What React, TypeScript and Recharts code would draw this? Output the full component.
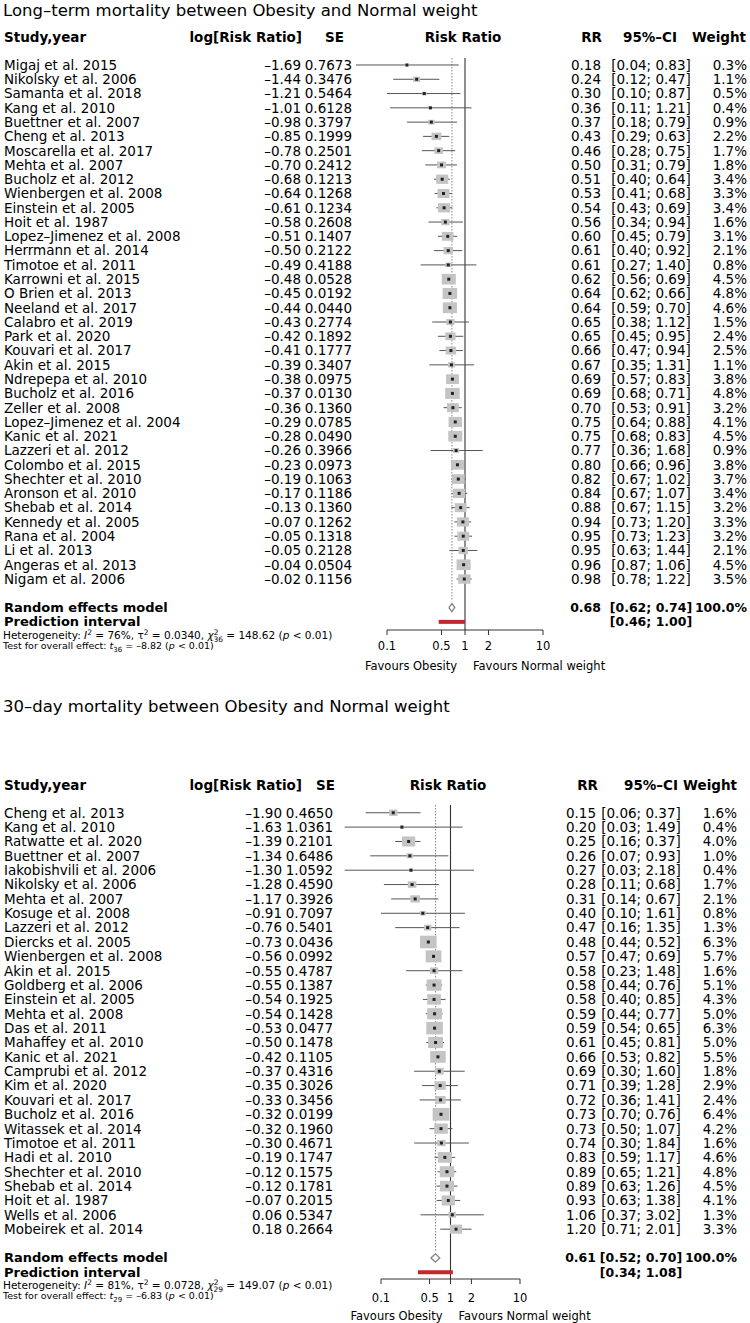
import React from 'react'
import { ScatterChart, Scatter, XAxis, YAxis, ErrorBar, ReferenceLine } from 'recharts'

const FONT = "'DejaVu Sans', sans-serif"

// Long-term mortality
const ltStudy = [
  'Migaj et al. 2015', 'Nikolsky et al. 2006', 'Samanta et al. 2018', 'Kang et al. 2010',
  'Buettner et al. 2007', 'Cheng et al. 2013', 'Moscarella et al. 2017', 'Mehta et al. 2007',
  'Bucholz et al. 2012', 'Wienbergen et al. 2008', 'Einstein et al. 2005', 'Hoit et al. 1987',
  'Lopez–Jimenez et al. 2008', 'Herrmann et al. 2014', 'Timotoe et al. 2011', 'Karrowni et al. 2015',
  'O Brien et al. 2013', 'Neeland et al. 2017', 'Calabro et al. 2019', 'Park et al. 2020',
  'Kouvari et al. 2017', 'Akin et al. 2015', 'Ndrepepa et al. 2010', 'Bucholz et al. 2016',
  'Zeller et al. 2008', 'Lopez–Jimenez et al. 2004', 'Kanic et al. 2021', 'Lazzeri et al. 2012',
  'Colombo et al. 2015', 'Shechter et al. 2010', 'Aronson et al. 2010', 'Shebab et al. 2014',
  'Kennedy et al. 2005', 'Rana et al. 2004', 'Li et al. 2013', 'Angeras et al. 2013', 'Nigam et al. 2006',
]
const ltLogRR = [
  -1.69, -1.44, -1.21, -1.01, -0.98, -0.85, -0.78, -0.70, -0.68, -0.64, -0.61, -0.58, -0.51, -0.50,
  -0.49, -0.48, -0.45, -0.44, -0.43, -0.42, -0.41, -0.39, -0.38, -0.37, -0.36, -0.29, -0.28, -0.26,
  -0.23, -0.19, -0.17, -0.13, -0.07, -0.05, -0.05, -0.04, -0.02,
]
const ltSE = [
  0.7673, 0.3476, 0.5464, 0.6128, 0.3797, 0.1999, 0.2501, 0.2412, 0.1213, 0.1268, 0.1234, 0.2608,
  0.1407, 0.2122, 0.4188, 0.0528, 0.0192, 0.0440, 0.2774, 0.1892, 0.1777, 0.3407, 0.0975, 0.0130,
  0.1360, 0.0785, 0.0490, 0.3966, 0.0973, 0.1063, 0.1186, 0.1360, 0.1262, 0.1318, 0.2128, 0.0504, 0.1156,
]
const ltRR = [
  0.18, 0.24, 0.30, 0.36, 0.37, 0.43, 0.46, 0.50, 0.51, 0.53, 0.54, 0.56, 0.60, 0.61, 0.61, 0.62,
  0.64, 0.64, 0.65, 0.65, 0.66, 0.67, 0.69, 0.69, 0.70, 0.75, 0.75, 0.77, 0.80, 0.82, 0.84, 0.88,
  0.94, 0.95, 0.95, 0.96, 0.98,
]
const ltLower = [
  0.04, 0.12, 0.10, 0.11, 0.18, 0.29, 0.28, 0.31, 0.40, 0.41, 0.43, 0.34, 0.45, 0.40, 0.27, 0.56,
  0.62, 0.59, 0.38, 0.45, 0.47, 0.35, 0.57, 0.68, 0.53, 0.64, 0.68, 0.36, 0.66, 0.67, 0.67, 0.67,
  0.73, 0.73, 0.63, 0.87, 0.78,
]
const ltUpper = [
  0.83, 0.47, 0.87, 1.21, 0.79, 0.63, 0.75, 0.79, 0.64, 0.68, 0.69, 0.94, 0.79, 0.92, 1.40, 0.69,
  0.66, 0.70, 1.12, 0.95, 0.94, 1.31, 0.83, 0.71, 0.91, 0.88, 0.83, 1.68, 0.96, 1.02, 1.07, 1.15,
  1.20, 1.23, 1.44, 1.06, 1.22,
]
const ltWeight = [
  0.3, 1.1, 0.5, 0.4, 0.9, 2.2, 1.7, 1.8, 3.4, 3.3, 3.4, 1.6, 3.1, 2.1, 0.8, 4.5, 4.8, 4.6, 1.5,
  2.4, 2.5, 1.1, 3.8, 4.8, 3.2, 4.1, 4.5, 0.9, 3.8, 3.7, 3.4, 3.2, 3.3, 3.2, 2.1, 4.5, 3.5,
]
const ltSummary = [0.68, 0.62, 0.74]
const ltPredInt = [0.46, 1.0]
const ltHet = ['76%', '0.0340', '36', '148.62', '–8.82']

// 30-day mortality
const tdStudy = [
  'Cheng et al. 2013', 'Kang et al. 2010', 'Ratwatte et al. 2020', 'Buettner et al. 2007',
  'Iakobishvili et al. 2006', 'Nikolsky et al. 2006', 'Mehta et al. 2007', 'Kosuge et al. 2008',
  'Lazzeri et al. 2012', 'Diercks et al. 2005', 'Wienbergen et al. 2008', 'Akin et al. 2015',
  'Goldberg et al. 2006', 'Einstein et al. 2005', 'Mehta et al. 2008', 'Das et al. 2011',
  'Mahaffey et al. 2010', 'Kanic et al. 2021', 'Camprubi et al. 2012', 'Kim et al. 2020',
  'Kouvari et al. 2017', 'Bucholz et al. 2016', 'Witassek et al. 2014', 'Timotoe et al. 2011',
  'Hadi et al. 2010', 'Shechter et al. 2010', 'Shebab et al. 2014', 'Hoit et al. 1987',
  'Wells et al. 2006', 'Mobeirek et al. 2014',
]
const tdLogRR = [
  -1.90, -1.63, -1.39, -1.34, -1.30, -1.28, -1.17, -0.91, -0.76, -0.73, -0.56, -0.55, -0.55, -0.54,
  -0.54, -0.53, -0.50, -0.42, -0.37, -0.35, -0.33, -0.32, -0.32, -0.30, -0.19, -0.12, -0.12, -0.07,
  0.06, 0.18,
]
const tdSE = [
  0.4650, 1.0361, 0.2101, 0.6486, 1.0592, 0.4590, 0.3926, 0.7097, 0.5401, 0.0436, 0.0992, 0.4787,
  0.1387, 0.1925, 0.1428, 0.0477, 0.1478, 0.1105, 0.4316, 0.3026, 0.3456, 0.0199, 0.1960, 0.4671,
  0.1747, 0.1575, 0.1781, 0.2015, 0.5347, 0.2664,
]
const tdRR = [
  0.15, 0.20, 0.25, 0.26, 0.27, 0.28, 0.31, 0.40, 0.47, 0.48, 0.57, 0.58, 0.58, 0.58, 0.59, 0.59,
  0.61, 0.66, 0.69, 0.71, 0.72, 0.73, 0.73, 0.74, 0.83, 0.89, 0.89, 0.93, 1.06, 1.20,
]
const tdLower = [
  0.06, 0.03, 0.16, 0.07, 0.03, 0.11, 0.14, 0.10, 0.16, 0.44, 0.47, 0.23, 0.44, 0.40, 0.44, 0.54,
  0.45, 0.53, 0.30, 0.39, 0.36, 0.70, 0.50, 0.30, 0.59, 0.65, 0.63, 0.63, 0.37, 0.71,
]
const tdUpper = [
  0.37, 1.49, 0.37, 0.93, 2.18, 0.68, 0.67, 1.61, 1.35, 0.52, 0.69, 1.48, 0.76, 0.85, 0.77, 0.65,
  0.81, 0.82, 1.60, 1.28, 1.41, 0.76, 1.07, 1.84, 1.17, 1.21, 1.26, 1.38, 3.02, 2.01,
]
const tdWeight = [
  1.6, 0.4, 4.0, 1.0, 0.4, 1.7, 2.1, 0.8, 1.3, 6.3, 5.7, 1.6, 5.1, 4.3, 5.0, 6.3, 5.0, 5.5, 1.8,
  2.9, 2.4, 6.4, 4.2, 1.6, 4.6, 4.8, 4.5, 4.1, 1.3, 3.3,
]
const tdSummary = [0.61, 0.52, 0.70]
const tdPredInt = [0.34, 1.08]
const tdHet = ['81%', '0.0728', '29', '149.07', '–6.83']

const axisTicks = [0.1, 0.5, 1, 2, 10]

type Cfg = {
  height: number
  plotTop: number
  plotBottom: number
  yDomain: [number, number]
  leftW: number
  rightW: number
  lrX: number
  seX: number
  rrX: number
  ciX: number
  wX: number
  hSE: number
  hRR: number
  hCI: number
  hW: number
  hRisk: number
  tickMargin: number
  titleY: number
  headY: number
  hetY: number
  testY: number
  favY: number
}

const ltCfg: Cfg = {
  height: 690, plotTop: 58, plotBottom: 630, yDomain: [0.51, 40.57], leftW: 309, rightW: 129,
  lrX: 301, seX: 352, rrX: 601, ciX: 651, wX: 747,
  hSE: 344, hRR: 602, hCI: 650, hW: 746, hRisk: 463, tickMargin: 7,
  titleY: 16, headY: 42, hetY: 639, testY: 649, favY: 670,
}

const tdCfg: Cfg = {
  height: 633, plotTop: 115, plotBottom: 589, yDomain: [0.46, 33.47], leftW: 311.5, rightW: 160.5,
  lrX: 282, seX: 333, rrX: 596, ciX: 641, wX: 737,
  hSE: 335, hRR: 598, hCI: 651, hW: 737, hRisk: 448, tickMargin: 10,
  titleY: 22, headY: 100, hetY: 599, testY: 609, favY: 630,
}

const num = (v: number, d: number) => v.toFixed(d).replace('-', '–')
const base = { fontFamily: FONT, fontSize: 13.5, fill: '#000' }
const bold = { ...base, fontWeight: 'bold' as const }
const boldLabel = { ...bold, fontSize: 13 }
const boldNum = { ...bold, fontSize: 12.5 }

function Forest(props: {
  title: string
  study: string[]
  logrr: number[]
  se: number[]
  rr: number[]
  lo: number[]
  hi: number[]
  wt: number[]
  summary: number[]
  pred: number[]
  het: string[]
  cfg: Cfg
}) {
  const { title, study, logrr, se, rr, lo, hi, wt, summary, pred, het, cfg } = props
  const n = study.length
  const reRow = n + 2
  const piRow = n + 3
  const rows = study.map((_, i) => ({ x: rr[i], y: i + 1, err: [rr[i] - lo[i], hi[i] - rr[i]], w: wt[i] }))
  const diamond = [
    { x: summary[1], y: reRow },
    { x: summary[0], y: reRow - 0.28 },
    { x: summary[2], y: reRow },
    { x: summary[0], y: reRow + 0.28 },
    { x: summary[1], y: reRow },
  ]
  const tickRows = [...rows.map(r => r.y), reRow, piRow]
  const oneX = cfg.leftW + (750 - cfg.leftW - cfg.rightW) / 2

  const leftTick = (p: any) => {
    const r = p.payload.value
    const y = p.y
    if (r === reRow || r === piRow) {
      return (
        <text x={4} y={y} dy="0.34em" {...boldLabel}>
          {r === reRow ? 'Random effects model' : 'Prediction interval'}
        </text>
      )
    }
    const i = r - 1
    return (
      <g>
        <text x={4} y={y} dy="0.36em" {...base}>{study[i]}</text>
        <text x={cfg.lrX} y={y} dy="0.36em" textAnchor="end" {...base}>{num(logrr[i], 2)}</text>
        <text x={cfg.seX} y={y} dy="0.36em" textAnchor="end" {...base}>{se[i].toFixed(4)}</text>
      </g>
    )
  }

  const rightTick = (p: any) => {
    const r = p.payload.value
    const y = p.y
    if (r === reRow) {
      return (
        <g>
          <text x={cfg.rrX} y={y} dy="0.36em" textAnchor="end" {...boldNum}>{num(summary[0], 2)}</text>
          <text x={cfg.ciX} y={y} dy="0.36em" textAnchor="middle" {...boldNum}>
            {`[${num(summary[1], 2)}; ${num(summary[2], 2)}]`}
          </text>
          <text x={cfg.wX} y={y} dy="0.36em" textAnchor="end" {...boldNum}>100.0%</text>
        </g>
      )
    }
    if (r === piRow) {
      return (
        <text x={cfg.ciX} y={y} dy="0.36em" textAnchor="middle" {...boldNum}>
          {`[${num(pred[0], 2)}; ${num(pred[1], 2)}]`}
        </text>
      )
    }
    const i = r - 1
    return (
      <g>
        <text x={cfg.rrX} y={y} dy="0.36em" textAnchor="end" {...base}>{num(rr[i], 2)}</text>
        <text x={cfg.ciX} y={y} dy="0.36em" textAnchor="middle" {...base}>
          {`[${num(lo[i], 2)}; ${num(hi[i], 2)}]`}
        </text>
        <text x={cfg.wX} y={y} dy="0.36em" textAnchor="end" {...base}>{`${wt[i].toFixed(1)}%`}</text>
      </g>
    )
  }

  const box = (p: any) => {
    const s = 6.6 * Math.sqrt(p.payload.w)
    return <rect x={p.cx - s / 2} y={p.cy - s * 0.38} width={s} height={s * 0.76} fill="#c4c4c4" />
  }
  const dot = (p: any) => <rect x={p.cx - 1.5} y={p.cy - 1.5} width={3} height={3} fill="#222" />
  const none = () => <g />

  const small = { fontFamily: FONT, fill: '#000' }

  return (
    <div style={{ position: 'relative', width: 750, height: cfg.height }}>
      <ScatterChart
        width={750}
        height={cfg.height}
        margin={{ top: cfg.plotTop, right: 0, bottom: cfg.height - cfg.plotBottom - 30, left: 0 }}
      >
        <XAxis
          type="number"
          dataKey="x"
          scale="log"
          domain={[0.01, 100]}
          allowDataOverflow
          ticks={axisTicks}
          interval={0}
          axisLine={false}
          tickLine={{ stroke: '#333' }}
          tickSize={5}
          tickMargin={cfg.tickMargin}
          height={30}
          tick={{ fontSize: 11.5, fill: '#000', fontFamily: FONT }}
          tickFormatter={(v: number) => String(v)}
        />
        <YAxis
          yAxisId="L"
          type="number"
          dataKey="y"
          domain={cfg.yDomain}
          reversed
          allowDataOverflow
          ticks={tickRows}
          interval={0}
          width={cfg.leftW}
          axisLine={false}
          tickLine={false}
          tick={leftTick}
        />
        <YAxis
          yAxisId="R"
          orientation="right"
          type="number"
          dataKey="y"
          domain={cfg.yDomain}
          reversed
          allowDataOverflow
          ticks={tickRows}
          interval={0}
          width={cfg.rightW}
          axisLine={false}
          tickLine={false}
          tick={rightTick}
        />
        <ReferenceLine yAxisId="L" x={1} stroke="#333" strokeWidth={1.1} ifOverflow="visible" />
        <ReferenceLine
          yAxisId="L"
          segment={[{ x: summary[0], y: cfg.yDomain[0] }, { x: summary[0], y: reRow - 0.45 }]}
          stroke="#888"
          strokeDasharray="1.5 1.5"
          ifOverflow="visible"
        />
        <ReferenceLine
          yAxisId="L"
          segment={[{ x: 0.1, y: cfg.yDomain[1] }, { x: 10, y: cfg.yDomain[1] }]}
          stroke="#333"
          ifOverflow="visible"
        />
        <Scatter yAxisId="L" data={rows} shape={box} isAnimationActive={false} />
        <Scatter yAxisId="L" data={rows} shape={dot} isAnimationActive={false}>
          <ErrorBar dataKey="err" direction="x" width={0} stroke="#555" strokeWidth={1} />
        </Scatter>
        <Scatter
          yAxisId="R"
          data={diamond}
          fill="#808080"
          line={{ stroke: '#808080', strokeWidth: 1.3, fill: 'none' }}
          shape={none}
          isAnimationActive={false}
        />
        <ReferenceLine
          yAxisId="L"
          segment={[{ x: pred[0], y: piRow }, { x: pred[1], y: piRow }]}
          stroke="#c0282d"
          strokeWidth={4}
          ifOverflow="visible"
        />
      </ScatterChart>
      <svg
        width={750}
        height={cfg.height}
        style={{ position: 'absolute', left: 0, top: 0, pointerEvents: 'none' }}
      >
        <text x={3} y={cfg.titleY} fontFamily={FONT} fontSize={16.5} fill="#000">{title}</text>
        <text x={4} y={cfg.headY} {...bold}>Study,year</text>
        <text x={302} y={cfg.headY} textAnchor="end" {...bold}>log[Risk Ratio]</text>
        <text x={cfg.hSE} y={cfg.headY} textAnchor="end" {...bold}>SE</text>
        <text x={cfg.hRisk} y={cfg.headY} textAnchor="middle" {...bold}>Risk Ratio</text>
        <text x={cfg.hRR} y={cfg.headY} textAnchor="end" {...bold}>RR</text>
        <text x={cfg.hCI} y={cfg.headY} textAnchor="middle" {...bold}>95%–CI</text>
        <text x={cfg.hW} y={cfg.headY} textAnchor="end" {...bold}>Weight</text>
        <text x={3} y={cfg.hetY} fontSize={10.5} {...small}>
          {'Heterogeneity: '}
          <tspan fontStyle="italic">I</tspan>
          <tspan dy={-4} fontSize={7.5}>2</tspan>
          <tspan dy={4}>{` = ${het[0]}, τ`}</tspan>
          <tspan dy={-4} fontSize={7.5}>2</tspan>
          <tspan dy={4}>{` = ${het[1]}, `}</tspan>
          <tspan fontStyle="italic">χ</tspan>
          <tspan dy={-4} fontSize={7.5}>2</tspan>
          <tspan dx={-5} dy={6.5} fontSize={7.5}>{het[2]}</tspan>
          <tspan dy={-2.5}>{` = ${het[3]} (`}</tspan>
          <tspan fontStyle="italic">p</tspan>
          <tspan>{' < 0.01)'}</tspan>
        </text>
        <text x={3} y={cfg.testY} fontSize={9.5} {...small}>
          {'Test for overall effect: '}
          <tspan fontStyle="italic">t</tspan>
          <tspan dy={2.5} fontSize={7}>{het[2]}</tspan>
          <tspan dy={-2.5}>{` = ${het[4]} (`}</tspan>
          <tspan fontStyle="italic">p</tspan>
          <tspan>{' < 0.01)'}</tspan>
        </text>
        <text x={oneX - 8} y={cfg.favY} textAnchor="end" fontSize={11.5} {...small}>Favours Obesity</text>
        <text x={oneX + 8} y={cfg.favY} fontSize={11.5} {...small}>Favours Normal weight</text>
      </svg>
    </div>
  )
}

export default function App() {
  return (
    <div style={{ width: 750, height: 1323, background: '#fff' }}>
      <style>{'body{margin:0}'}</style>
      <Forest
        title="Long–term mortality between Obesity and Normal weight"
        study={ltStudy}
        logrr={ltLogRR}
        se={ltSE}
        rr={ltRR}
        lo={ltLower}
        hi={ltUpper}
        wt={ltWeight}
        summary={ltSummary}
        pred={ltPredInt}
        het={ltHet}
        cfg={ltCfg}
      />
      <Forest
        title="30–day mortality between Obesity and Normal weight"
        study={tdStudy}
        logrr={tdLogRR}
        se={tdSE}
        rr={tdRR}
        lo={tdLower}
        hi={tdUpper}
        wt={tdWeight}
        summary={tdSummary}
        pred={tdPredInt}
        het={tdHet}
        cfg={tdCfg}
      />
    </div>
  )
}
